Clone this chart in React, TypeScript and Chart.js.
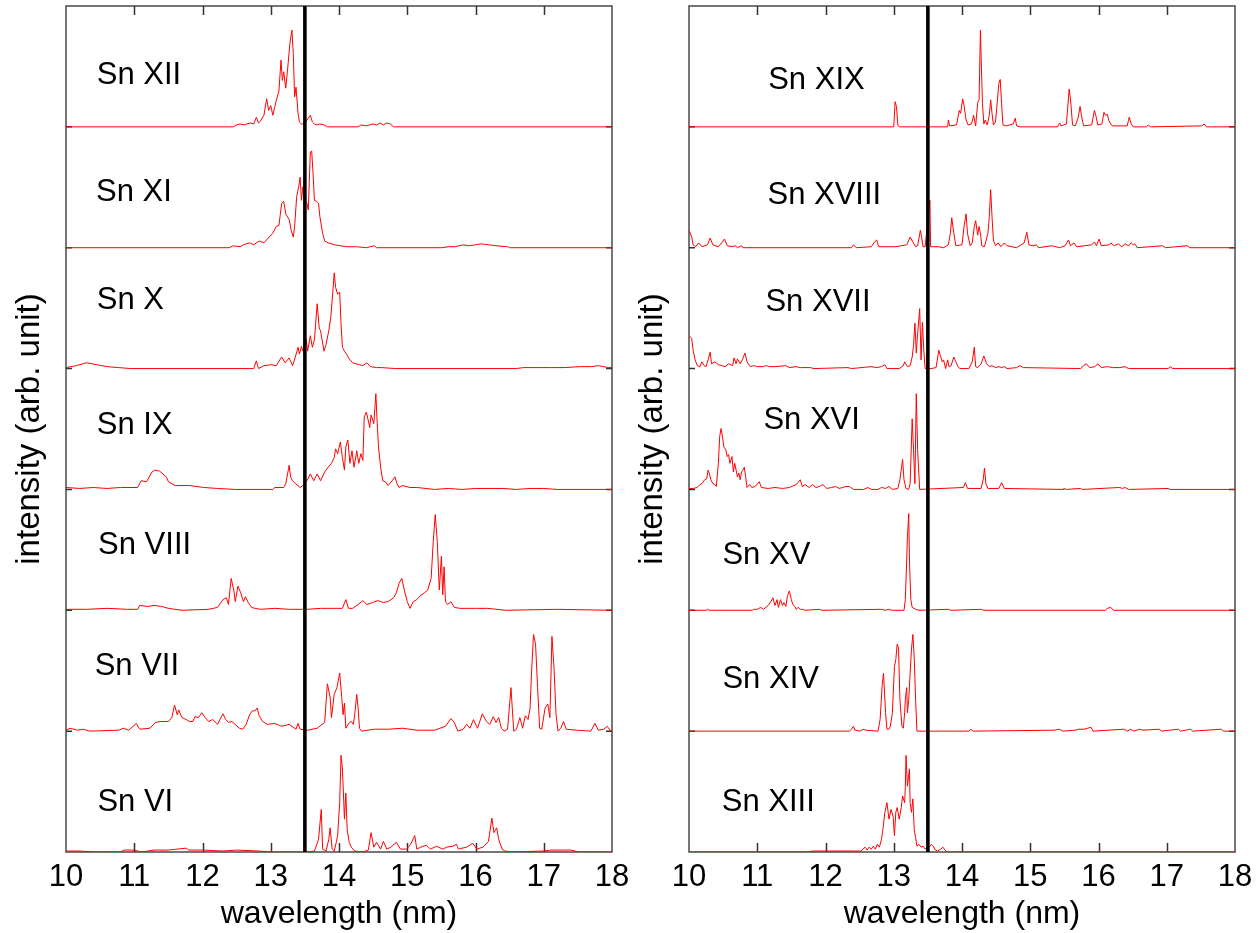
import React, { useEffect, useRef } from "react";
import { Chart, registerables } from "chart.js";

Chart.register(...registerables);

// ---------- axis / reference values ----------
const WL_MIN = 10;
const WL_MAX = 18;
const xTicks = [10, 11, 12, 13, 14, 15, 16, 17, 18];
const EUV_WL = 13.5; // in-band wavelength marker (nm)
const BAND = 125; // intensity units per stacked spectrum (peaks normalised to ~100)

// ---------- left panel (top -> bottom) ----------
const leftIons = ["Sn XII", "Sn XI", "Sn X", "Sn IX", "Sn VIII", "Sn VII", "Sn VI"];

const snXII: number[][] = [
  [10, 0], [12.45, 0], [12.5, 2], [12.55, 3], [12.6, 2], [12.65, 3], [12.7, 4], [12.75, 3], [12.79, 10], [12.82, 4],
  [12.85, 6], [12.9, 12], [12.94, 29], [12.97, 17], [13.0, 22], [13.03, 12], [13.06, 21], [13.08, 27], [13.12, 37],
  [13.15, 69], [13.17, 48], [13.19, 57], [13.22, 40], [13.25, 62], [13.28, 86], [13.31, 100], [13.33, 76], [13.35, 31],
  [13.37, 41], [13.4, 14], [13.42, 5], [13.45, 3], [13.47, 3], [13.5, 4], [13.55, 9], [13.58, 12], [13.61, 5], [13.64, 3],
  [13.68, 2], [13.72, 3], [13.78, 2], [13.83, 0], [14.28, 0], [14.32, 2], [14.4, 1], [14.5, 3], [14.55, 2], [14.6, 4],
  [14.65, 2], [14.7, 4], [14.75, 3], [14.8, 0], [18, 0],
];

const snXI: number[][] = [
  [10, 0], [12.39, 0], [12.45, 2], [12.55, 1], [12.6, 3], [12.69, 5], [12.75, 3], [12.83, 7], [12.9, 5], [12.95, 9],
  [13.03, 15], [13.08, 22], [13.12, 23], [13.16, 46], [13.19, 48], [13.22, 35], [13.27, 29], [13.3, 18], [13.33, 11],
  [13.35, 22], [13.38, 53], [13.41, 63], [13.43, 73], [13.45, 49], [13.47, 63], [13.5, 49], [13.53, 46], [13.55, 39],
  [13.58, 99], [13.6, 100], [13.62, 77], [13.64, 49], [13.67, 48], [13.7, 46], [13.72, 32], [13.76, 15], [13.79, 7],
  [13.84, 5], [13.94, 3], [14.1, 1], [14.26, 1], [14.4, 0], [14.52, 2], [14.55, 0], [15.5, 0], [15.6, 1], [15.7, 1],
  [15.82, 3], [15.9, 2], [16.0, 3], [16.08, 4], [16.2, 3], [16.3, 2], [16.47, 1], [16.5, 0], [18, 0],
];

const snX: number[][] = [
  [10, 1], [10.15, 3], [10.3, 6], [10.45, 4], [10.6, 2], [10.77, 1], [10.95, 0], [12.75, 0], [12.79, 8], [12.82, 0],
  [12.9, 3], [13.0, 4], [13.08, 3], [13.16, 12], [13.21, 6], [13.27, 11], [13.32, 3], [13.36, 12], [13.4, 22], [13.42, 15],
  [13.45, 23], [13.47, 18], [13.52, 30], [13.54, 18], [13.58, 34], [13.61, 22], [13.64, 30], [13.68, 67], [13.71, 42],
  [13.73, 39], [13.78, 18], [13.81, 25], [13.85, 39], [13.88, 53], [13.91, 80], [13.93, 99], [13.95, 84], [13.98, 77],
  [14.01, 79], [14.03, 46], [14.05, 22], [14.08, 18], [14.11, 15], [14.15, 10], [14.2, 6], [14.3, 4], [14.35, 3],
  [14.41, 6], [14.46, 2], [14.55, 1], [14.62, 1], [14.83, 0], [16.6, 0], [16.7, 1], [16.9, 1], [17.1, 1], [17.3, 1],
  [17.54, 2], [17.7, 2], [17.8, 3], [17.95, 1], [18, 1],
];

const snIX: number[][] = [
  [10, 2], [10.2, 1], [10.4, 2], [10.6, 1], [10.8, 2], [11.05, 2], [11.1, 9], [11.18, 8], [11.26, 18], [11.3, 20],
  [11.37, 19], [11.42, 16], [11.47, 13], [11.5, 8], [11.6, 4], [11.81, 4], [12.02, 2], [12.22, 1], [12.48, 0], [13.03, 0],
  [13.06, 2], [13.19, 2], [13.22, 6], [13.27, 25], [13.29, 13], [13.32, 9], [13.36, 6], [13.4, 4], [13.43, 2], [13.47, 4],
  [13.53, 9], [13.58, 16], [13.63, 9], [13.68, 16], [13.73, 9], [13.79, 18], [13.84, 23], [13.89, 27], [13.93, 33],
  [13.95, 42], [13.98, 37], [14.02, 49], [14.05, 33], [14.08, 20], [14.1, 44], [14.13, 51], [14.16, 27], [14.19, 40],
  [14.22, 23], [14.26, 40], [14.29, 27], [14.32, 37], [14.35, 30], [14.37, 75], [14.4, 80], [14.43, 71], [14.45, 64],
  [14.47, 77], [14.51, 68], [14.54, 99], [14.56, 68], [14.58, 43], [14.61, 23], [14.64, 9], [14.68, 8], [14.72, 4],
  [14.78, 9], [14.82, 13], [14.85, 6], [14.88, 2], [14.93, 4], [15.04, 2], [15.14, 2], [15.4, 0], [15.6, 1], [15.8, 0],
  [16.0, 1], [16.2, 1], [16.4, 1], [16.6, 0], [16.8, 1], [17.0, 1], [17.2, 0], [18, 0],
];

const snVIII: number[][] = [
  [10, 1], [10.3, 1], [10.6, 2], [10.9, 1], [11.05, 1], [11.08, 5], [11.2, 4], [11.29, 5], [11.4, 4], [11.5, 2], [11.7, 0],
  [12.09, 1], [12.22, 3], [12.3, 11], [12.35, 13], [12.38, 6], [12.42, 33], [12.46, 20], [12.48, 9], [12.52, 25],
  [12.56, 18], [12.6, 9], [12.63, 14], [12.67, 8], [12.72, 3], [12.77, 2], [12.85, 1], [13.06, 2], [13.27, 1], [13.45, 1],
  [13.53, 1], [13.73, 2], [14.05, 2], [14.1, 11], [14.14, 2], [14.2, 2], [14.28, 6], [14.35, 10], [14.41, 6], [14.49, 8],
  [14.57, 10], [14.65, 8], [14.72, 9], [14.8, 13], [14.84, 18], [14.88, 28], [14.92, 33], [14.96, 20], [15.0, 9],
  [15.04, 2], [15.09, 9], [15.14, 11], [15.19, 15], [15.25, 18], [15.3, 21], [15.35, 33], [15.38, 70], [15.41, 99],
  [15.44, 71], [15.47, 21], [15.5, 56], [15.52, 16], [15.54, 45], [15.56, 9], [15.59, 6], [15.64, 9], [15.69, 3],
  [15.77, 2], [16.0, 2], [16.18, 2], [16.44, 0], [17.2, 1], [18, 0],
];

const snVII: number[][] = [
  [10.0, 1], [10.06, 3], [10.17, 1], [10.25, 2], [10.35, 0], [10.77, 1], [10.84, 3], [10.92, 1], [11.03, 8], [11.08, 2],
  [11.23, 3], [11.31, 9], [11.39, 10], [11.5, 10], [11.55, 14], [11.59, 27], [11.63, 17], [11.65, 22], [11.7, 14],
  [11.76, 12], [11.81, 10], [11.86, 10], [11.89, 15], [11.94, 14], [11.99, 19], [12.04, 14], [12.09, 10], [12.15, 12],
  [12.22, 7], [12.3, 18], [12.34, 12], [12.38, 9], [12.43, 10], [12.54, 3], [12.59, 2], [12.64, 7], [12.69, 17],
  [12.73, 21], [12.77, 21], [12.8, 24], [12.83, 16], [12.88, 10], [12.95, 7], [13.06, 8], [13.16, 5], [13.27, 7],
  [13.37, 2], [13.4, 8], [13.43, 2], [13.54, 1], [13.68, 3], [13.79, 9], [13.83, 49], [13.87, 35], [13.89, 14],
  [13.93, 38], [13.97, 45], [14.01, 60], [14.04, 35], [14.06, 17], [14.08, 29], [14.1, 3], [14.14, 8], [14.18, 10],
  [14.21, 7], [14.23, 17], [14.26, 38], [14.28, 24], [14.3, 3], [14.33, 0], [14.52, 2], [14.72, 2], [14.93, 3],
  [15.14, 1], [15.4, 1], [15.56, 5], [15.64, 13], [15.69, 9], [15.74, 0], [15.82, 2], [15.87, 7], [15.92, 3],
  [15.97, 12], [16.03, 3], [16.1, 18], [16.16, 10], [16.21, 7], [16.26, 15], [16.3, 9], [16.34, 14], [16.38, 3],
  [16.42, 0], [16.47, 2], [16.52, 45], [16.56, 0], [16.6, 2], [16.65, 14], [16.69, 3], [16.73, 16], [16.77, 12],
  [16.8, 24], [16.82, 59], [16.85, 100], [16.88, 90], [16.91, 45], [16.94, 3], [16.97, 2], [17.02, 24], [17.06, 28],
  [17.09, 14], [17.12, 98], [17.15, 66], [17.18, 17], [17.21, 0], [17.25, 3], [17.29, 10], [17.33, 2], [17.48, 1],
  [17.69, 0], [17.75, 8], [17.8, 1], [17.88, 2], [17.93, 5], [17.98, 0], [18, 0],
];

const snVI: number[][] = [
  [10, 1], [10.2, 1], [10.4, 0], [10.8, 0], [10.85, 2], [11.0, 2], [11.1, 0], [11.29, 2], [11.5, 2], [11.76, 4], [11.8, 2],
  [12.0, 2], [12.3, 1], [12.5, 2], [12.82, 1], [13.0, 0], [13.52, 0], [13.64, 1], [13.7, 13], [13.74, 44], [13.76, 3],
  [13.81, 1], [13.85, 13], [13.87, 25], [13.9, 3], [13.93, 1], [13.96, 10], [13.98, 17], [14.01, 51], [14.03, 100],
  [14.05, 86], [14.08, 34], [14.1, 61], [14.12, 23], [14.15, 10], [14.18, 5], [14.23, 1], [14.35, 0], [14.43, 2],
  [14.47, 20], [14.51, 5], [14.55, 10], [14.61, 3], [14.65, 11], [14.7, 3], [14.76, 5], [14.84, 10], [14.9, 3],
  [14.99, 3], [15.05, 8], [15.11, 17], [15.14, 3], [15.2, 5], [15.28, 7], [15.34, 3], [15.43, 6], [15.52, 3], [15.58, 5],
  [15.67, 6], [15.72, 8], [15.75, 3], [15.87, 5], [15.96, 9], [16.02, 3], [16.11, 5], [16.19, 11], [16.24, 35],
  [16.27, 20], [16.31, 25], [16.34, 13], [16.39, 3], [16.43, 1], [16.52, 0], [16.99, 1], [17.1, 2], [17.4, 2],
  [17.51, 0], [18, 0],
];

// ---------- right panel (top -> bottom) ----------
const rightIons = ["Sn XIX", "Sn XVIII", "Sn XVII", "Sn XVI", "Sn XV", "Sn XIV", "Sn XIII"];

const snXIX: number[][] = [
  [10, 0], [13.0, 0], [13.02, 26], [13.04, 21], [13.06, 2], [13.08, 0], [13.79, 0], [13.8, 7], [13.82, 1], [13.92, 2],
  [13.96, 17], [13.98, 14], [14.01, 29], [14.03, 22], [14.06, 7], [14.09, 2], [14.14, 3], [14.17, 12], [14.2, 1],
  [14.23, 25], [14.25, 28], [14.27, 100], [14.28, 72], [14.3, 24], [14.32, 3], [14.34, 7], [14.37, 2], [14.4, 12],
  [14.42, 28], [14.44, 14], [14.46, 2], [14.49, 5], [14.52, 28], [14.54, 45], [14.56, 49], [14.58, 24], [14.6, 2],
  [14.65, 1], [14.75, 3], [14.78, 9], [14.8, 1], [14.85, 0], [15.4, 0], [15.43, 4], [15.45, 1], [15.53, 3], [15.57, 39],
  [15.59, 28], [15.62, 2], [15.66, 1], [15.7, 9], [15.73, 21], [15.75, 12], [15.78, 1], [15.9, 2], [15.94, 17],
  [15.96, 12], [15.99, 2], [16.05, 3], [16.08, 15], [16.1, 12], [16.13, 13], [16.15, 7], [16.17, 4], [16.2, 1],
  [16.42, 1], [16.45, 10], [16.48, 3], [16.51, 0], [16.7, 0], [16.73, 2], [16.76, 0], [17.51, 1], [17.55, 3], [17.58, 0],
  [18, 0],
];

const snXVIII: number[][] = [
  [10.0, 18], [10.04, 11], [10.06, 3], [10.1, 1], [10.14, 5], [10.19, 1], [10.27, 3], [10.31, 10], [10.35, 3], [10.43, 1],
  [10.48, 5], [10.52, 9], [10.56, 2], [10.64, 1], [10.68, 2], [10.71, 0], [10.77, 2], [10.79, 0], [12.38, 0], [12.41, 3],
  [12.45, 0], [12.67, 1], [12.72, 6], [12.75, 8], [12.78, 1], [13.03, 1], [13.19, 3], [13.24, 11], [13.28, 6], [13.32, 1],
  [13.35, 2], [13.39, 18], [13.41, 10], [13.43, 1], [13.46, 1], [13.53, 49], [13.54, 1], [13.66, 1], [13.73, 0],
  [13.8, 3], [13.83, 15], [13.85, 31], [13.88, 15], [13.91, 2], [14.0, 3], [14.03, 22], [14.06, 35], [14.08, 15],
  [14.12, 2], [14.15, 5], [14.18, 22], [14.2, 28], [14.23, 13], [14.25, 22], [14.27, 15], [14.29, 2], [14.33, 1],
  [14.38, 15], [14.4, 32], [14.42, 60], [14.44, 32], [14.46, 8], [14.49, 2], [14.53, 5], [14.57, 1], [14.62, 5],
  [14.66, 2], [14.8, 0], [14.91, 5], [14.95, 16], [14.98, 3], [15.04, 2], [15.09, 3], [15.12, 0], [15.32, 2], [15.43, 0],
  [15.51, 2], [15.56, 8], [15.59, 2], [15.64, 5], [15.68, 1], [15.9, 3], [15.94, 6], [15.97, 2], [16.01, 9], [16.04, 2],
  [16.16, 3], [16.18, 5], [16.23, 2], [16.29, 4], [16.34, 1], [16.39, 4], [16.44, 2], [16.48, 5], [16.51, 3], [16.53, 4],
  [16.57, 0], [16.94, 2], [16.98, 0], [17.3, 2], [17.34, 0], [18, 0],
];

const snXVII: number[][] = [
  [10.0, 34], [10.04, 31], [10.06, 19], [10.09, 9], [10.12, 3], [10.16, 2], [10.19, 7], [10.22, 3], [10.25, 2], [10.28, 9],
  [10.31, 17], [10.33, 5], [10.38, 7], [10.43, 4], [10.48, 3], [10.53, 2], [10.58, 5], [10.64, 3], [10.66, 11], [10.69, 5],
  [10.71, 10], [10.75, 5], [10.78, 9], [10.82, 16], [10.85, 7], [10.9, 2], [10.95, 3], [11.0, 2], [11.08, 2], [11.13, 3],
  [11.18, 2], [11.26, 2], [11.42, 3], [11.47, 1], [11.57, 2], [11.63, 1], [11.78, 1], [11.83, 0], [12.33, 1], [12.38, 0],
  [12.67, 2], [12.75, 1], [12.82, 2], [12.87, 4], [12.9, 0], [13.08, 0], [13.14, 3], [13.16, 7], [13.2, 2], [13.24, 3],
  [13.27, 12], [13.29, 24], [13.31, 47], [13.33, 16], [13.35, 36], [13.38, 62], [13.4, 9], [13.42, 48], [13.44, 19],
  [13.46, 0], [13.55, 0], [13.62, 1], [13.66, 19], [13.68, 14], [13.71, 7], [13.73, 9], [13.76, 0], [13.79, 9], [13.81, 2],
  [13.84, 3], [13.88, 12], [13.91, 7], [13.94, 2], [13.97, 0], [14.1, 0], [14.15, 7], [14.18, 22], [14.2, 2], [14.23, 1],
  [14.28, 5], [14.32, 13], [14.36, 5], [14.4, 2], [14.44, 3], [14.49, 1], [14.54, 2], [14.58, 1], [14.62, 2], [14.66, 0],
  [14.8, 1], [14.85, 3], [14.9, 1], [15.74, 0], [15.78, 3], [15.82, 5], [15.87, 1], [15.95, 2], [15.99, 5], [16.04, 1],
  [16.13, 2], [16.21, 1], [16.31, 1], [16.39, 2], [16.44, 0], [17.02, 0], [17.05, 2], [17.09, 0], [18, 0],
];

const snXVI: number[][] = [
  [10.0, 1], [10.06, 1], [10.12, 2], [10.16, 5], [10.19, 6], [10.23, 10], [10.26, 11], [10.28, 20], [10.3, 16], [10.32, 10],
  [10.35, 6], [10.38, 5], [10.4, 3], [10.43, 27], [10.45, 55], [10.47, 63], [10.49, 55], [10.51, 44], [10.54, 41],
  [10.56, 34], [10.58, 36], [10.6, 27], [10.63, 34], [10.65, 18], [10.67, 27], [10.69, 20], [10.71, 13], [10.73, 17],
  [10.75, 10], [10.77, 18], [10.79, 20], [10.81, 23], [10.83, 13], [10.85, 2], [10.89, 5], [10.92, 2], [10.97, 3],
  [11.03, 8], [11.06, 2], [11.16, 1], [11.26, 2], [11.37, 1], [11.47, 2], [11.57, 5], [11.63, 10], [11.66, 3], [11.7, 5],
  [11.76, 2], [11.81, 5], [11.86, 2], [11.91, 3], [11.96, 5], [12.02, 1], [12.09, 2], [12.15, 3], [12.2, 1], [12.25, 2],
  [12.3, 3], [12.35, 3], [12.41, 0], [12.56, 0], [12.62, 2], [12.67, 0], [12.77, 0], [12.82, 2], [12.88, 1], [12.93, 3],
  [12.98, 0], [13.06, 1], [13.09, 10], [13.13, 31], [13.15, 10], [13.18, 1], [13.22, 0], [13.24, 6], [13.27, 73],
  [13.29, 41], [13.31, 6], [13.33, 99], [13.35, 41], [13.38, 0], [14.02, 2], [14.05, 7], [14.08, 1], [14.28, 1],
  [14.31, 10], [14.33, 22], [14.35, 6], [14.38, 1], [14.54, 1], [14.58, 7], [14.62, 1], [15.48, 0], [15.49, 1], [15.53, 0],
  [15.74, 1], [15.76, 0], [16.31, 2], [16.35, 1], [16.39, 2], [16.44, 0], [17.02, 1], [17.05, 0], [18, 0],
];

const snXV: number[][] = [
  [10, 0], [10.25, 0], [10.27, 1], [10.3, 0], [10.93, 0], [10.95, 1], [11.0, 1], [11.05, 3], [11.09, 1], [11.16, 5],
  [11.2, 9], [11.23, 13], [11.26, 5], [11.29, 11], [11.31, 3], [11.34, 11], [11.37, 5], [11.39, 8], [11.42, 4], [11.44, 14],
  [11.47, 20], [11.5, 11], [11.52, 6], [11.55, 4], [11.57, 1], [11.6, 3], [11.63, 1], [11.67, 1], [11.7, 0], [11.91, 1],
  [11.95, 0], [12.82, 1], [12.88, 0], [12.92, 1], [12.98, 0], [13.15, 0], [13.17, 11], [13.19, 52], [13.2, 75],
  [13.22, 100], [13.23, 52], [13.25, 11], [13.27, 3], [13.32, 1], [13.37, 0], [13.8, 1], [13.84, 0], [14.28, 1],
  [14.32, 0], [16.1, 0], [16.13, 2], [16.18, 3], [16.22, 0], [18, 0],
];

const snXIV: number[][] = [
  [10, 0], [12.35, 0], [12.38, 2], [12.41, 5], [12.43, 1], [12.51, 0], [12.55, 2], [12.59, 1], [12.77, 0], [12.8, 12],
  [12.83, 47], [12.85, 60], [12.88, 19], [12.9, 2], [12.93, 2], [12.95, 5], [12.98, 19], [13.01, 67], [13.03, 74],
  [13.05, 90], [13.07, 86], [13.09, 33], [13.12, 5], [13.14, 3], [13.16, 19], [13.17, 33], [13.19, 45], [13.2, 19],
  [13.22, 33], [13.24, 60], [13.26, 85], [13.28, 100], [13.3, 76], [13.32, 33], [13.34, 0], [14.1, 0], [14.13, 2],
  [14.16, 0], [15.35, 1], [15.43, 2], [15.48, 0], [15.66, 1], [15.71, 2], [15.79, 2], [15.84, 3], [15.89, 4], [15.92, 0],
  [16.37, 2], [16.42, 0], [16.47, 2], [16.52, 0], [16.6, 2], [16.65, 1], [16.89, 2], [16.92, 0], [17.17, 2], [17.2, 0],
  [17.35, 2], [17.38, 0], [17.8, 2], [17.83, 0], [18, 0],
];

const snXIII: number[][] = [
  [10, 0], [11.76, 0], [11.8, 1], [12.0, 1], [12.05, 1], [12.52, 1], [12.55, 3], [12.58, 5], [12.61, 2], [12.64, 5],
  [12.67, 3], [12.7, 6], [12.73, 3], [12.76, 8], [12.79, 5], [12.82, 13], [12.84, 23], [12.87, 41], [12.9, 51], [12.93, 34],
  [12.96, 44], [12.99, 37], [13.01, 17], [13.03, 41], [13.05, 46], [13.08, 34], [13.11, 46], [13.13, 58], [13.16, 51],
  [13.17, 68], [13.18, 100], [13.2, 68], [13.23, 86], [13.24, 51], [13.26, 41], [13.28, 55], [13.3, 23], [13.32, 15],
  [13.34, 6], [13.37, 8], [13.4, 5], [13.43, 6], [13.46, 3], [13.49, 5], [13.52, 5], [13.55, 8], [13.58, 6], [13.61, 2],
  [13.64, 1], [13.69, 3], [13.72, 5], [13.75, 2], [13.78, 0], [18, 0],
];

// ---------- annotation placement (ion name text) ----------
const leftLabelWl = [10.45, 10.44, 10.45, 10.45, 10.47, 10.42, 10.46];
const leftLabelLevel = [53, 57, 70, 66, 67, 67, 51];
const rightLabelWl = [11.16, 11.15, 11.12, 11.09, 10.49, 10.49, 10.48];
const rightLabelLevel = [48, 54, 68, 71, 57, 53, 51];

const FONT = "Arial, 'Liberation Sans', Helvetica, sans-serif";
const CANVAS_W = 642;
const CANVAS_H = 933;
const PAD_RIGHT = 30; // chart area ends 612 px from canvas left

function makeDecorPlugin(names: string[], labelWl: number[], labelLevel: number[]) {
  return {
    id: "frameTicksLabels",
    beforeDatasetsDraw(chart: any) {
      const { ctx, chartArea: a, scales } = chart;
      const xs = scales.x;
      const ys = scales.y;
      ctx.save();
      // frame
      ctx.strokeStyle = "#4a4a4a";
      ctx.lineWidth = 1.5;
      ctx.strokeRect(a.left, a.top, a.right - a.left, a.bottom - a.top);
      // inward ticks
      ctx.beginPath();
      for (const t of xTicks) {
        if (t <= WL_MIN || t >= WL_MAX) continue;
        const px = Math.round(xs.getPixelForValue(t)) + 0.5;
        ctx.moveTo(px, a.top);
        ctx.lineTo(px, a.top + 9);
        ctx.moveTo(px, a.bottom);
        ctx.lineTo(px, a.bottom - 9);
      }
      for (let k = 1; k < names.length; k++) {
        const py = ys.getPixelForValue(k * BAND);
        ctx.moveTo(a.left, py);
        ctx.lineTo(a.left + 6, py);
        ctx.moveTo(a.right, py);
        ctx.lineTo(a.right - 6, py);
      }
      ctx.strokeStyle = "#333";
      ctx.lineWidth = 1.5;
      ctx.stroke();
      // ion labels
      ctx.fillStyle = "#000";
      ctx.font = `31px ${FONT}`;
      ctx.textAlign = "left";
      ctx.textBaseline = "middle";
      names.forEach((n, i) => {
        const level = (names.length - 1 - i) * BAND + labelLevel[i];
        ctx.fillText(n, xs.getPixelForValue(labelWl[i]), ys.getPixelForValue(level));
      });
      ctx.restore();
    },
  };
}

function SpectraPanel(props: {
  spectra: number[][][];
  names: string[];
  labelWl: number[];
  labelLevel: number[];
  left: number;
}) {
  const ref = useRef<HTMLCanvasElement | null>(null);
  useEffect(() => {
    if (!ref.current) return;
    const n = props.spectra.length;
    const datasets: any[] = [
      {
        data: [
          { x: EUV_WL, y: 0 },
          { x: EUV_WL, y: n * BAND },
        ],
        borderColor: "#000",
        borderWidth: 3.6,
      },
      ...props.spectra.map((s, i) => ({
        data: s.map(([wl, v]) => ({ x: wl, y: v + (n - 1 - i) * BAND })),
        borderColor: "#ff0000",
        borderWidth: 1,
      })),
    ];
    const chart = new Chart(ref.current, {
      type: "line",
      data: { datasets },
      options: {
        responsive: false,
        animation: false,
        events: [],
        layout: { padding: { top: 6, right: PAD_RIGHT, left: 0, bottom: 0 } },
        plugins: { legend: { display: false }, tooltip: { enabled: false } },
        elements: { point: { radius: 0 }, line: { tension: 0 } },
        scales: {
          x: {
            type: "linear",
            min: WL_MIN,
            max: WL_MAX,
            afterBuildTicks: (scale: any) => {
              scale.ticks = xTicks.map((v) => ({ value: v }));
            },
            ticks: {
              color: "#000",
              font: { family: FONT, size: 31 },
              padding: 7,
              autoSkip: false,
              maxRotation: 0,
            },
            grid: { display: false, drawTicks: false },
            border: { display: false },
            title: {
              display: true,
              text: "wavelength (nm)",
              color: "#000",
              font: { family: FONT, size: 32 },
              padding: { top: 0, bottom: 0 },
            },
            afterFit: (scale: any) => {
              scale.height = 81;
            },
          },
          y: {
            type: "linear",
            min: 0,
            max: n * BAND,
            ticks: { display: false },
            grid: { display: false, drawTicks: false },
            border: { display: false },
            title: {
              display: true,
              text: "intensity (arb. unit)",
              color: "#000",
              font: { family: FONT, size: 33 },
              padding: { top: 10, bottom: 0 },
            },
            afterFit: (scale: any) => {
              scale.width = 66;
            },
          },
        },
      },
      plugins: [makeDecorPlugin(props.names, props.labelWl, props.labelLevel)],
    } as any);
    return () => chart.destroy();
  }, []);
  return (
    <canvas
      ref={ref}
      width={CANVAS_W}
      height={CANVAS_H}
      style={{ position: "absolute", left: props.left, top: 0, width: CANVAS_W, height: CANVAS_H }}
    />
  );
}

export default function App() {
  return (
    <div
      style={{
        position: "absolute",
        left: 0,
        top: 0,
        width: 1259,
        height: 933,
        overflow: "hidden",
        background: "#fff",
      }}
    >
      <SpectraPanel
        spectra={[snXII, snXI, snX, snIX, snVIII, snVII, snVI]}
        names={leftIons}
        labelWl={leftLabelWl}
        labelLevel={leftLabelLevel}
        left={0}
      />
      <SpectraPanel
        spectra={[snXIX, snXVIII, snXVII, snXVI, snXV, snXIV, snXIII]}
        names={rightIons}
        labelWl={rightLabelWl}
        labelLevel={rightLabelLevel}
        left={623}
      />
    </div>
  );
}
